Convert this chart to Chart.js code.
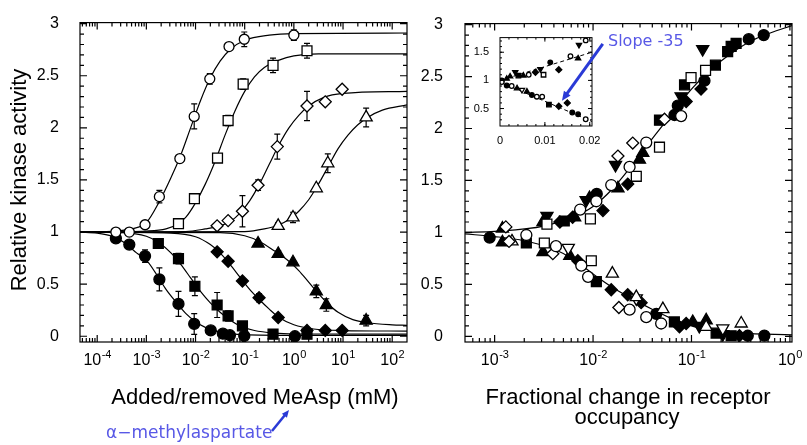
<!DOCTYPE html>
<html>
<head>
<meta charset="utf-8">
<script src="https://cdn.jsdelivr.net/npm/chart.js@4.4.0/dist/chart.umd.min.js"></script>
<style>
  body { margin: 0; background: #fff; width: 807px; height: 445px; overflow: hidden; position: relative; }
  canvas { position: absolute; top: 0; }
</style>
</head>
<body>
<canvas id="left" width="420" height="445" style="left:0"></canvas>
<canvas id="right" width="387" height="445" style="left:420px"></canvas>
<canvas id="inset" width="230" height="118" style="left:470px;top:28px"></canvas>
<script>
// ---- left panel: added / removed MeAsp (mM) vs relative kinase activity ----
const addCircle = [[2.4e-4,1.0],[4.5e-4,1.0],[9.4e-4,1.07],[1.84e-3,1.34],[4.8e-3,1.705],[9.4e-3,2.11],[0.0195,2.47],[0.048,2.78],[0.098,2.85],[1.0,2.89]];
const addCircleErr = [0,0,0,0.06,0,0.12,0.05,0,0.07,0.05];
const addSquare = [[4.5e-3,1.08],[9.5e-3,1.32],[0.028,1.71],[0.046,2.07],[0.093,2.42],[0.377,2.60],[1.85,2.74]];
const addSquareErr = [0,0.04,0.04,0.05,0.05,0.07,0.07];
const addDiamond = [[0.0275,1.06],[0.046,1.11],[0.09,1.20],[0.187,1.45],[0.46,1.82],[1.85,2.21],[4.35,2.25],[9.6,2.37]];
const addDiamondErr = [0,0,0.15,0.05,0.12,0.14,0,0];
const addTriangle = [[0.48,1.06],[0.96,1.14],[2.86,1.42],[4.9,1.66],[29.5,2.10]];
const addTriangleErr = [0.03,0.05,0,0.09,0.09];
const remCircle = [[2.4e-4,0.94],[4.5e-4,0.88],[9.4e-4,0.77],[1.84e-3,0.546],[4.5e-3,0.31],[9.4e-3,0.118],[0.0204,0.056],[0.036,0.025],[0.05,0.01],[0.098,0.003],[1.05,0.0]];
const remCircleErr = [0,0,0.06,0.11,0.12,0.1,0,0,0,0,0];
const remSquare = [[1.75e-3,0.89],[4.5e-3,0.745],[9.7e-3,0.48],[0.0275,0.30],[0.046,0.195],[0.09,0.10],[0.377,0.02],[1.85,0.02]];
const remSquareErr = [0,0.05,0.09,0.12,0.05,0.04,0,0];
const remDiamond = [[0.0275,0.81],[0.046,0.72],[0.09,0.53],[0.196,0.37],[0.48,0.18],[1.85,0.056],[4.35,0.056],[9.6,0.056]];
const remDiamondErr = [0,0,0,0.04,0,0,0,0];
const remTriangle = [[0.187,0.89],[0.48,0.79],[0.96,0.71],[2.86,0.43],[4.57,0.30],[29.5,0.15]];
const remTriangleErr = [0,0.03,0,0.06,0.06,0.05];

// fitted curves
const fitAddCircle = [[4.47e-5,1],[2.51e-4,1.01],[5.01e-4,1.03],[1e-3,1.09],[1.78e-3,1.28],[3.16e-3,1.52],[5.01e-3,1.74],[7.94e-3,2.0],[0.0126,2.26],[0.02,2.48],[0.0316,2.64],[0.0501,2.75],[0.1,2.84],[0.316,2.89],[1,2.905],[200,2.91]];
const fitAddSquare = [[4.47e-5,1],[1e-3,1.01],[2.51e-3,1.03],[4.47e-3,1.08],[6.31e-3,1.14],[0.01,1.28],[0.0158,1.46],[0.0251,1.68],[0.0398,1.93],[0.0631,2.16],[0.1,2.35],[0.158,2.49],[0.251,2.58],[0.501,2.65],[1,2.69],[3.16,2.71],[200,2.71]];
const fitAddDiamond = [[4.47e-5,1],[6.31e-3,1.005],[0.0158,1.03],[0.0316,1.06],[0.0501,1.1],[0.0794,1.18],[0.126,1.3],[0.2,1.46],[0.316,1.65],[0.501,1.84],[0.794,2.0],[1.26,2.12],[2.0,2.21],[3.98,2.29],[10,2.33],[200,2.35]];
const fitAddTriangle = [[4.47e-5,1],[0.1,1.005],[0.251,1.03],[0.501,1.07],[0.794,1.12],[1.26,1.2],[2.0,1.31],[3.16,1.46],[5.01,1.63],[7.94,1.8],[12.6,1.93],[20,2.03],[31.6,2.1],[63.1,2.17],[200,2.22]];
const fitRemCircle = [[4.47e-5,1],[1e-4,0.99],[2.0e-4,0.96],[3.55e-4,0.9],[6.31e-4,0.8],[1e-3,0.73],[1.58e-3,0.6],[2.51e-3,0.45],[3.98e-3,0.33],[6.31e-3,0.22],[0.01,0.14],[0.0158,0.085],[0.0316,0.04],[0.1,0.015],[1,0.008],[200,0.008]];
const fitRemSquare = [[4.47e-5,1],[3.16e-4,0.995],[1e-3,0.96],[1.78e-3,0.9],[3.16e-3,0.8],[5.01e-3,0.69],[7.94e-3,0.56],[0.0126,0.43],[0.02,0.32],[0.0316,0.23],[0.0501,0.155],[0.0794,0.1],[0.158,0.055],[0.398,0.03],[1,0.022],[200,0.02]];
const fitRemDiamond = [[4.47e-5,1],[3.16e-3,0.99],[0.01,0.955],[0.02,0.88],[0.0316,0.8],[0.0501,0.69],[0.0794,0.57],[0.126,0.45],[0.2,0.35],[0.316,0.26],[0.501,0.18],[1,0.11],[2.51,0.07],[10,0.055],[200,0.05]];
const fitRemTriangle = [[4.47e-5,1],[0.0316,0.995],[0.1,0.965],[0.2,0.91],[0.398,0.82],[0.794,0.72],[1.26,0.63],[2.0,0.52],[3.16,0.41],[5.01,0.31],[7.94,0.23],[15.8,0.16],[31.6,0.13],[100,0.11],[200,0.105]];

// ---- right panel: fractional change in receptor occupancy ----
const occOpenCircle = [[0.0785,2.12],[0.0347,1.865],[0.0235,1.63],[0.0153,1.456],[0.0108,1.30],[0.0074,1.22],[0.0021,0.975],[0.0042,0.867],[0.0076,0.68],[0.0089,0.572],[0.0235,0.256],[0.0347,0.184],[0.0492,0.123]];
const occOpenSquare = [[0.139,2.56],[0.099,2.49],[0.0473,1.82],[0.0275,1.54],[0.0094,1.13],[0.0034,1.08],[0.0032,0.898],[0.0096,0.727]];
const occOpenDiamond = [[0.0532,2.09],[0.0253,1.86],[0.0179,1.735],[0.0013,1.053],[0.0014,0.913],[0.0039,0.795],[0.0183,0.277]];
const occOpenTriUp = [[0.0015,0.913],[0.0157,0.603],[0.0275,0.377],[0.0512,0.262],[0.141,0.091],[0.32,0.123]];
const occOpenTriDown = [[0.0056,0.851],[0.0275,0.365],[0.208,0.076]];
const occCircle = [[0.542,2.90],[0.382,2.86],[0.1355,2.46],[0.0726,2.22],[0.0671,2.13],[0.0109,1.37],[0.00089,0.95],[0.0439,0.216],[0.55,0.007],[0.373,0.005]];
const occSquare = [[0.253,2.79],[0.284,2.82],[0.233,2.74],[0.175,2.61],[0.085,2.42],[0.0473,2.08],[0.0051,1.11],[0.0021,0.898],[0.0108,0.526],[0.067,0.138],[0.178,0.03],[0.253,0.005]];
const occDiamond = [[0.125,2.38],[0.0883,2.26],[0.0225,1.465],[0.0126,1.21],[0.0046,1.10],[0.0062,1.146],[0.007,0.727],[0.0153,0.448],[0.0225,0.40],[0.0308,0.324],[0.0755,0.091],[0.0883,0.123],[0.307,0.005]];
const occTriUp = [[0.0296,1.70],[0.032,1.765],[0.0179,1.425],[0.0092,1.33],[0.0012,1.037],[0.0031,1.10],[0.0065,1.146],[0.0012,0.904],[0.0031,0.81],[0.0058,0.774],[0.141,0.153],[0.103,0.138]];
const occTriDown = [[0.13,2.765],[0.0785,2.31],[0.0169,1.65],[0.0085,1.31],[0.0034,1.16],[0.12,0.1],[0.208,0.02]];
const fitOccUp = [[5e-4,1.0],[1e-3,1.01],[3.16e-3,1.06],[6.31e-3,1.15],[0.01,1.25],[0.0158,1.42],[0.0251,1.65],[0.0398,1.9],[0.0631,2.14],[0.1,2.38],[0.158,2.57],[0.251,2.72],[0.398,2.84],[0.631,2.92],[1.05,2.99]];
const fitOccDown = [[5e-4,0.985],[1e-3,0.96],[2e-3,0.92],[3.98e-3,0.84],[6.31e-3,0.74],[0.01,0.6],[0.0158,0.47],[0.0251,0.36],[0.0398,0.26],[0.0631,0.17],[0.1,0.1],[0.158,0.06],[0.316,0.03],[1.05,0.014]];

// ---- inset: linear region near zero occupancy change ----
const insetCircle = [[0.0004,1.0],[0.0112,1.32],[0.0015,0.91],[0.0071,0.74],[0.0161,0.43],[0.0174,0.40]];
const insetOpenCircle = [[0.0064,1.10],[0.0157,1.43],[0.0191,1.71],[0.0004,0.97],[0.0026,0.90],[0.0082,0.71],[0.0094,0.71],[0.0191,0.31]];
const insetTriUp = [[0.0015,1.03],[0.00225,1.07],[0.0052,1.086],[0.0174,1.39],[0.0038,0.86],[0.006,0.80]];
const insetTriDown = [[0.0034,1.145],[0.009,1.20],[0.0176,1.63]];
const insetSquare = [[0.0041,1.086],[0.0109,0.57]];
const insetOpenSquare = [[0.0097,1.10]];
const insetDiamond = [[0.0079,1.145],[0.0131,1.19],[0.0131,0.54],[0.015,0.60]];
const insetOpenTriDown = [[0.0049,0.83]];
const insetFitUp = [[0,1.0],[0.0205,1.5]];
const insetFitDown = [[0,0.97],[0.0205,0.27]];

// ticks (x labels are powers of ten: base "10" + exponent)
const leftXTicks = [1e-4,1e-3,1e-2,1e-1,1,10,100];
const leftXExps = ['-4','-3','-2','-1','0','1','2'];
const rightXTicks = [1e-3,1e-2,1e-1,1];
const rightXExps = ['-3','-2','-1','0'];
const yTicks = [0,0.5,1,1.5,2,2.5,3];
const yLabels = ['0','0.5','1','1.5','2','2.5','3'];
const insetXTicks = [0,0.01,0.02];
const insetXLabels = ['0','0.01','0.02'];
const insetYTicks = [0.5,1,1.5];
const insetYLabels = ['0.5','1','1.5'];

const FONT = "'Liberation Sans', Arial, Helvetica, sans-serif";
Chart.defaults.font.family = FONT;
Chart.defaults.color = '#000';
Chart.defaults.animation = false;

const BLUE_TEXT = '#5858e6';
const BLUE_ARROW = '#2a3ad6';

function pts(a) { return a.map(p => ({ x: p[0], y: p[1] })); }

function markers(data, style, filled, r, rot, err) {
  return {
    data: pts(data), showLine: false, pointStyle: style, pointRadius: r, pointHoverRadius: r,
    pointRotation: rot || 0, pointBackgroundColor: filled ? '#000' : '#fff',
    pointBorderColor: '#000', pointBorderWidth: 1.3, errors: err
  };
}

function fitLine(data, width, dash) {
  return {
    data: pts(data), showLine: true, pointRadius: 0, borderColor: '#000', borderWidth: width,
    borderDash: dash || [], cubicInterpolationMode: 'monotone', fill: false
  };
}

function logMinors(lo, hi) {
  const out = [];
  for (let e = Math.floor(Math.log10(lo)); e <= Math.ceil(Math.log10(hi)); e++) {
    for (let k = 2; k < 10; k++) {
      const v = k * Math.pow(10, e);
      if (v > lo && v < hi) out.push(v);
    }
  }
  return out;
}
function linMinors(lo, hi, step) {
  const out = [];
  for (let v = lo; v <= hi + 1e-9; v += step) out.push(+v.toFixed(6));
  return out;
}

// box frame with inward ticks on all four sides, plus power-of-ten x labels
const framePlugin = {
  id: 'frame',
  afterDatasetsDraw(chart, args, o) {
    const { ctx, chartArea: a } = chart;
    const x = chart.scales.x, y = chart.scales.y;
    ctx.save();
    ctx.strokeStyle = '#000';
    ctx.lineWidth = o.lineWidth;
    ctx.strokeRect(a.left, a.top, a.right - a.left, a.bottom - a.top);
    ctx.beginPath();
    const tx = (vals, len) => vals.forEach(v => {
      const p = x.getPixelForValue(v);
      if (p < a.left + 1 || p > a.right - 1) return;
      ctx.moveTo(p, a.bottom); ctx.lineTo(p, a.bottom - len);
      ctx.moveTo(p, a.top); ctx.lineTo(p, a.top + len);
    });
    const ty = (vals, len) => vals.forEach(v => {
      const p = y.getPixelForValue(v);
      if (p < a.top + 1 || p > a.bottom - 1) return;
      ctx.moveTo(a.left, p); ctx.lineTo(a.left + len, p);
      ctx.moveTo(a.right, p); ctx.lineTo(a.right - len, p);
    });
    tx(o.xMinor, o.minor); tx(o.xMajor, o.major);
    ty(o.yMinor, o.minor); ty(o.yMajor, o.major);
    ctx.stroke();

    if (o.pow) {
      ctx.fillStyle = '#000';
      ctx.textBaseline = 'alphabetic';
      ctx.textAlign = 'left';
      o.xMajor.forEach((v, i) => {
        const cx = x.getPixelForValue(v);
        const exp = o.pow[i];
        ctx.font = '16px ' + FONT;
        const w1 = ctx.measureText('10').width;
        ctx.font = '11px ' + FONT;
        const w2 = ctx.measureText(exp).width;
        const x0 = cx - (w1 + w2) / 2;
        ctx.font = '16px ' + FONT;
        ctx.fillText('10', x0, o.powY);
        ctx.font = '11px ' + FONT;
        ctx.fillText(exp, x0 + w1 + 0.5, o.powY - 7);
      });
    }
    ctx.restore();
  }
};

const errorBars = {
  id: 'errorBars',
  beforeDatasetsDraw(chart) {
    const { ctx } = chart;
    const y = chart.scales.y;
    ctx.save();
    ctx.strokeStyle = '#000';
    ctx.lineWidth = 1.2;
    ctx.beginPath();
    chart.data.datasets.forEach((ds, i) => {
      if (!ds.errors) return;
      chart.getDatasetMeta(i).data.forEach((pt, j) => {
        const e = ds.errors[j];
        if (!e) return;
        const v = ds.data[j].y;
        const t = y.getPixelForValue(v + e), b = y.getPixelForValue(v - e);
        ctx.moveTo(pt.x, t); ctx.lineTo(pt.x, b);
        ctx.moveTo(pt.x - 3, t); ctx.lineTo(pt.x + 3, t);
        ctx.moveTo(pt.x - 3, b); ctx.lineTo(pt.x + 3, b);
      });
    });
    ctx.stroke();
    ctx.restore();
  }
};

function arrow(ctx, x1, y1, x2, y2, head, color, width) {
  const ang = Math.atan2(y2 - y1, x2 - x1);
  ctx.save();
  ctx.strokeStyle = color; ctx.fillStyle = color; ctx.lineWidth = width;
  ctx.beginPath();
  ctx.moveTo(x1, y1);
  ctx.lineTo(x2 - Math.cos(ang) * head * 0.8, y2 - Math.sin(ang) * head * 0.8);
  ctx.stroke();
  ctx.beginPath();
  ctx.moveTo(x2, y2);
  ctx.lineTo(x2 - head * Math.cos(ang - 0.42), y2 - head * Math.sin(ang - 0.42));
  ctx.lineTo(x2 - head * Math.cos(ang + 0.42), y2 - head * Math.sin(ang + 0.42));
  ctx.closePath();
  ctx.fill();
  ctx.restore();
}

function logAxis(min, max, ticks, h) {
  return {
    type: 'logarithmic', min, max, bounds: 'data',
    grid: { display: false }, border: { display: false },
    ticks: { display: false },
    afterBuildTicks: s => { s.ticks = ticks.map(v => ({ value: v })); },
    afterFit: s => { s.height = h; }
  };
}
function linAxis(min, max, ticks, labels, size, pad, fit) {
  return {
    type: 'linear', min, max, bounds: 'data',
    grid: { display: false }, border: { display: false },
    ticks: { autoSkip: false, maxRotation: 0, padding: pad, font: { size }, color: '#000',
      callback: (v, i) => labels[i] },
    afterBuildTicks: s => { s.ticks = ticks.map(v => ({ value: v })); },
    afterFit: fit
  };
}

const base = {
  responsive: false, animation: false, devicePixelRatio: 1,
  events: [],
  plugins: { legend: { display: false }, tooltip: { enabled: false } }
};

// ---- left chart ----
new Chart(document.getElementById('left'), {
  type: 'scatter',
  data: { datasets: [
    markers(addCircle, 'circle', false, 5, 0, addCircleErr),
    markers(addSquare, 'rect', false, 7, 0, addSquareErr),
    markers(addDiamond, 'rectRot', false, 6, 0, addDiamondErr),
    markers(addTriangle, 'triangle', false, 7, 0, addTriangleErr),
    markers(remCircle, 'circle', true, 5.5, 0, remCircleErr),
    markers(remSquare, 'rect', true, 7, 0, remSquareErr),
    markers(remDiamond, 'rectRot', true, 6, 0, remDiamondErr),
    markers(remTriangle, 'triangle', true, 7, 0, remTriangleErr),
    fitLine(fitAddCircle, 1.2), fitLine(fitAddSquare, 1.2), fitLine(fitAddDiamond, 1.2), fitLine(fitAddTriangle, 1.2),
    fitLine(fitRemCircle, 1.2), fitLine(fitRemSquare, 1.2), fitLine(fitRemDiamond, 1.2), fitLine(fitRemTriangle, 1.2)
  ] },
  options: Object.assign({}, base, {
    layout: { padding: { left: 0, top: 15, right: 13, bottom: 0 } },
    scales: {
      x: logAxis(4.47e-5, 200, leftXTicks, 103),
      y: linAxis(-0.055, 3.01, yTicks, yLabels, 16, 13, s => { s.width = 80; })
    },
    plugins: Object.assign({}, base.plugins, {
      frame: { lineWidth: 1.2, major: 7, minor: 4,
        xMajor: leftXTicks, xMinor: logMinors(4.47e-5, 200),
        yMajor: yTicks, yMinor: linMinors(0, 3, 0.1),
        pow: leftXExps, powY: 365 }
    })
  }),
  plugins: [errorBars, framePlugin, {
    id: 'leftText',
    afterDraw(chart) {
      const ctx = chart.ctx;
      ctx.save();
      ctx.fillStyle = '#000';
      ctx.font = '22px ' + FONT;
      ctx.textAlign = 'center';
      ctx.textBaseline = 'alphabetic';
      ctx.fillText('Added/removed MeAsp (mM)', 255, 404);
      ctx.save();
      ctx.translate(26, 180);
      ctx.rotate(-Math.PI / 2);
      ctx.fillText('Relative kinase activity', 0, 0);
      ctx.restore();
      ctx.fillStyle = BLUE_TEXT;
      ctx.font = "17px 'DejaVu Sans', sans-serif";
      ctx.textAlign = 'left';
      ctx.fillText('\u03B1\u2212methylaspartate', 106, 438);
      ctx.restore();
      arrow(ctx, 272, 431, 289, 410, 8, BLUE_ARROW, 2.5);
    }
  }]
});

// ---- right chart ----
new Chart(document.getElementById('right'), {
  type: 'scatter',
  data: { datasets: [
    markers(occOpenCircle, 'circle', false, 5.5),
    markers(occOpenSquare, 'rect', false, 7),
    markers(occOpenDiamond, 'rectRot', false, 6),
    markers(occOpenTriUp, 'triangle', false, 7),
    markers(occOpenTriDown, 'triangle', false, 7, 180),
    markers(occCircle, 'circle', true, 5.5),
    markers(occSquare, 'rect', true, 7),
    markers(occDiamond, 'rectRot', true, 6),
    markers(occTriUp, 'triangle', true, 7),
    markers(occTriDown, 'triangle', true, 7, 180),
    fitLine(fitOccUp, 1.2), fitLine(fitOccDown, 1.2)
  ] },
  options: Object.assign({}, base, {
    layout: { padding: { left: 0, top: 15, right: 15, bottom: 0 } },
    scales: {
      x: logAxis(5e-4, 1.05, rightXTicks, 103),
      y: linAxis(-0.055, 3.01, yTicks, yLabels, 16, 14, s => { s.width = 45; })
    },
    plugins: Object.assign({}, base.plugins, {
      frame: { lineWidth: 1.2, major: 7, minor: 4,
        xMajor: rightXTicks, xMinor: logMinors(5e-4, 1.05),
        yMajor: yTicks, yMinor: linMinors(0, 3, 0.1),
        pow: rightXExps, powY: 365 }
    })
  }),
  plugins: [framePlugin, {
    id: 'rightText',
    afterDraw(chart) {
      const ctx = chart.ctx;
      ctx.save();
      ctx.fillStyle = '#000';
      ctx.font = '22px ' + FONT;
      ctx.textAlign = 'center';
      ctx.fillText('Fractional change in receptor', 208, 404);
      ctx.fillText('occupancy', 207, 424);
      ctx.restore();
    }
  }]
});

// ---- inset ----
new Chart(document.getElementById('inset'), {
  type: 'scatter',
  data: { datasets: [
    markers(insetOpenCircle, 'circle', false, 2.3),
    markers(insetOpenSquare, 'rect', false, 3.2),
    markers(insetOpenTriDown, 'triangle', false, 3, 180),
    markers(insetCircle, 'circle', true, 2.3),
    markers(insetSquare, 'rect', true, 3.2),
    markers(insetDiamond, 'rectRot', true, 3),
    markers(insetTriUp, 'triangle', true, 3),
    markers(insetTriDown, 'triangle', true, 3, 180),
    fitLine(insetFitUp, 1, [4, 3]), fitLine(insetFitDown, 1, [4, 3])
  ] },
  options: Object.assign({}, base, {
    layout: { padding: { left: 0, top: 7, right: 108, bottom: 0 } },
    scales: {
      x: linAxis(0, 0.0205, insetXTicks, insetXLabels, 11, 0, s => { s.height = 20; }),
      y: linAxis(0.19, 1.76, insetYTicks, insetYLabels, 11, 3, s => { s.width = 30; })
    },
    plugins: Object.assign({}, base.plugins, {
      frame: { lineWidth: 1, major: 4, minor: 2,
        xMajor: insetXTicks, xMinor: linMinors(0, 0.02, 0.002),
        yMajor: insetYTicks, yMinor: linMinors(0.2, 1.7, 0.1) }
    })
  }),
  plugins: [framePlugin, {
    id: 'slope',
    afterDraw(chart) {
      const { ctx } = chart;
      const x = chart.scales.x, y = chart.scales.y;
      ctx.save();
      ctx.fillStyle = BLUE_TEXT;
      ctx.font = "16px 'DejaVu Sans', sans-serif";
      ctx.textAlign = 'left';
      ctx.textBaseline = 'middle';
      ctx.fillText('Slope -35', x.getPixelForValue(0.02407), y.getPixelForValue(1.69));
      ctx.restore();
      arrow(ctx, x.getPixelForValue(0.0229), y.getPixelForValue(1.65),
        x.getPixelForValue(0.0138), y.getPixelForValue(0.64), 10, BLUE_ARROW, 3);
    }
  }]
});
</script>
</body>
</html>
